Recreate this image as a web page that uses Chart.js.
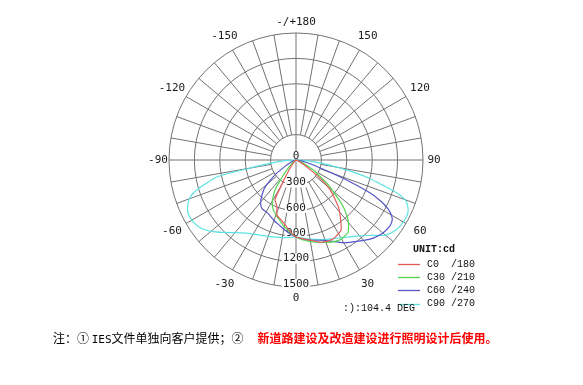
<!DOCTYPE html>
<html>
<head>
<meta charset="utf-8">
<script src="https://cdn.jsdelivr.net/npm/chart.js@4/dist/chart.umd.min.js"></script>
<style>
html,body{margin:0;padding:0;background:#fff;}
#wrap{position:relative;width:583px;height:385px;}
#note{position:absolute;left:53px;top:329px;font-family:"Noto Sans CJK SC","DejaVu Sans",sans-serif;font-size:12px;color:#000;white-space:nowrap;}
#note .mono{font-family:"DejaVu Sans Mono",monospace;font-size:11px;}
#note .red{color:#ff0000;font-weight:bold;margin-left:14px;}
</style>
</head>
<body>
<div id="wrap">
<canvas id="c" width="583" height="385"></canvas>
<div id="note">注：① <span class="mono">IES</span>文件单独向客户提供；②<span class="red">新道路建设及改造建设进行照明设计后使用。</span></div>
</div>
<script>
// ---- data (gamma angle in degrees, luminous intensity in cd) ----
const planeNames = ['C0  /180', 'C30 /210', 'C60 /240', 'C90 /270'];
const planeColors = ['#e45a5a', '#52d652', '#5656c8', '#5ce2e2'];

// C0 (right half, +gamma) and C180 (left half, -gamma)
const c0Angles   = [0, 10, 16, 20, 25, 30, 33, 38, 42, 45, 49, 52, 55, 60, 65, 70, 90];
const c0Values   = [910, 960, 1010, 1025, 1030, 1005, 980, 850, 750, 650, 530, 400, 230, 100, 40, 15, 0];
const c180Angles = [0, -5, -10, -15, -19, -22, -25, -28, -30, -33, -37, -45, -90];
const c180Values = [910, 840, 770, 720, 690, 600, 560, 530, 350, 200, 100, 30, 0];

// C30 / C210
const c30Angles  = [0, 10, 20, 25, 29, 33, 36, 41, 45, 48, 52, 56, 60, 65, 70, 90];
const c30Values  = [910, 980, 1036, 1063, 1078, 1065, 1049, 937, 800, 652, 500, 330, 230, 100, 40, 0];
const c210Angles = [0, -10, -15, -20, -25, -30, -35, -38, -42, -47, -55, -90];
const c210Values = [910, 800, 740, 690, 640, 560, 430, 300, 180, 80, 30, 0];

// C60 / C240
const c60Angles  = [0, 10, 20, 30, 40, 45, 50, 55, 58, 60, 62, 64, 66, 68, 70, 73, 77, 82, 90];
const c60Values  = [910, 960, 1010, 1130, 1240, 1300, 1340, 1355, 1340, 1300, 1230, 1120, 960, 700, 450, 250, 120, 50, 0];
const c240Angles = [0, -10, -15, -20, -28, -35, -40, -45, -49, -55, -60, -70, -80, -90];
const c240Values = [910, 830, 790, 760, 710, 700, 650, 560, 480, 300, 150, 50, 20, 0];

// C90 / C270
const c90Angles  = [0, 10, 20, 30, 40, 45, 50, 55, 60, 65, 68, 70, 72, 74, 76, 78, 80, 83, 86, 90];
const c90Values  = [910, 950, 1000, 1060, 1170, 1260, 1380, 1440, 1465, 1460, 1420, 1370, 1250, 1050, 900, 700, 500, 300, 150, 0];
const c270Angles = [0, -10, -20, -30, -36, -40, -45, -50, -55, -60, -64, -67, -70, -72, -75, -78, -80, -83, -86, -90];
const c270Values = [910, 930, 960, 1010, 1065, 1120, 1210, 1310, 1390, 1420, 1420, 1390, 1340, 1280, 1120, 950, 560, 300, 150, 0];

// polar grid
const ringValues = [300, 600, 900, 1200, 1500];
const ringLabels = ['300', '600', '900', '1200', '1500'];
const angleTickValues = [180, 150, 120, 90, 60, 30, 0, -30, -60, -90, -120, -150];
const angleTickLabels = ['-/+180', '150', '120', '90', '60', '30', '0', '-30', '-60', '-90', '-120', '-150'];
const unitLabel = 'UNIT:cd';
const maxText = ':):104.4 DEG';
const rMax = 1500;

// ---- build ----
function toXY(angles, values) {
  return angles.map((a, i) => {
    const t = a * Math.PI / 180;
    return { x: values[i] * Math.sin(t), y: -values[i] * Math.cos(t) };
  });
}
function loop(negA, negV, posA, posV) {
  const left = toXY(negA, negV).reverse();   // from -90 up to 0
  const right = toXY(posA, posV).slice(1);   // from 0 to +90
  return left.concat(right);
}
const planeData = [
  loop(c180Angles, c180Values, c0Angles, c0Values),
  loop(c210Angles, c210Values, c30Angles, c30Values),
  loop(c240Angles, c240Values, c60Angles, c60Values),
  loop(c270Angles, c270Values, c90Angles, c90Values)
];

const polarGrid = {
  id: 'polarGrid',
  beforeDatasetsDraw(chart) {
    const ctx = chart.ctx;
    const xs = chart.scales.x, ys = chart.scales.y;
    const cx = xs.getPixelForValue(0), cy = ys.getPixelForValue(0);
    const pr = v => xs.getPixelForValue(v) - cx;
    const R = pr(rMax), r0 = pr(ringValues[0]);
    ctx.save();
    ctx.strokeStyle = '#727272';
    ctx.lineWidth = 1;
    // rings
    ringValues.forEach(v => {
      ctx.beginPath();
      ctx.arc(cx, cy, pr(v), 0, Math.PI * 2);
      ctx.stroke();
    });
    // spokes every 10 deg
    for (let a = 0; a < 360; a += 10) {
      const t = a * Math.PI / 180;
      const start = (a % 90 === 0) ? 0 : r0;
      ctx.beginPath();
      ctx.moveTo(cx + start * Math.sin(t), cy + start * Math.cos(t));
      ctx.lineTo(cx + R * Math.sin(t), cy + R * Math.cos(t));
      ctx.stroke();
    }
    // angle labels
    ctx.fillStyle = '#1a1a1a';
    ctx.font = '11px "DejaVu Sans Mono", monospace';
    ctx.textAlign = 'center';
    ctx.textBaseline = 'middle';
    angleTickValues.forEach((a, i) => {
      const t = a * Math.PI / 180;
      const rr = R + 11 + 6 * Math.abs(Math.sin(2 * t));
      ctx.fillText(angleTickLabels[i], cx + rr * Math.sin(t), cy + rr * Math.cos(t));
    });
    // ring labels
    const drawLab = (txt, y) => {
      const w = ctx.measureText(txt).width;
      ctx.fillStyle = '#fff';
      ctx.fillRect(cx - w / 2 - 1, y - 5, w + 2, 10);
      ctx.fillStyle = '#1a1a1a';
      ctx.fillText(txt, cx, y);
    };
    drawLab('0', cy - 3.5);
    ringValues.forEach((v, i) => drawLab(ringLabels[i], ys.getPixelForValue(-v) - 3));
    ctx.restore();
  },
  afterDraw(chart) {
    const ctx = chart.ctx;
    const xs = chart.scales.x, ys = chart.scales.y;
    const cx = xs.getPixelForValue(0), cy = ys.getPixelForValue(0);
    const R = xs.getPixelForValue(rMax) - cx;
    ctx.save();
    ctx.textBaseline = 'middle';
    ctx.textAlign = 'left';
    ctx.fillStyle = '#111';
    ctx.font = 'bold 10px "Liberation Mono", monospace';
    const lx = cx + R - 17, ly = cy + R * 0.70 + 1;
    ctx.fillText(unitLabel, lx + 7, ly);
    ctx.font = '10px "Liberation Mono", monospace';
    planeNames.forEach((n, i) => {
      const y = ly + 14 + i * 13.2;
      ctx.strokeStyle = planeColors[i];
      ctx.lineWidth = 1.3;
      ctx.beginPath();
      ctx.moveTo(lx - 8, Math.round(y) + 0.5);
      ctx.lineTo(lx + 14, Math.round(y) + 0.5);
      ctx.stroke();
      ctx.fillStyle = '#111';
      ctx.fillText(n, lx + 21, y);
    });
    ctx.font = '10px "Liberation Mono", monospace';
    ctx.fillText(maxText, cx + 47, cy + R + 21);
    ctx.restore();
  }
};

new Chart(document.getElementById('c'), {
  type: 'scatter',
  data: {
    datasets: planeData.map((d, i) => ({
      label: planeNames[i],
      data: d,
      showLine: true,
      borderColor: planeColors[i],
      backgroundColor: planeColors[i],
      borderWidth: 1.2,
      pointRadius: 0,
      tension: 0.25,
      fill: false
    }))
  },
  options: {
    responsive: false,
    animation: false,
    events: [],
    layout: { padding: { left: 169, right: 160, top: 33, bottom: 98 } },
    plugins: { legend: { display: false }, tooltip: { enabled: false }, title: { display: false } },
    scales: {
      x: { type: 'linear', min: -rMax, max: rMax, display: false },
      y: { type: 'linear', min: -rMax, max: rMax, display: false }
    }
  },
  plugins: [polarGrid]
});
</script>
</body>
</html>
